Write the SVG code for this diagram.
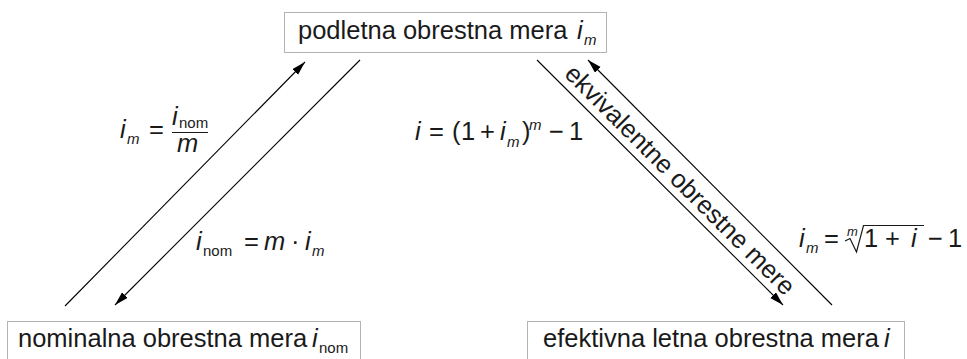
<svg xmlns="http://www.w3.org/2000/svg" width="967" height="359" viewBox="0 0 967 359">
<style>
text{font-family:"Liberation Sans",Arial,sans-serif;fill:#1a1a1a;font-size:25.5px}
.it{font-style:italic}
.sub{font-size:15px;font-style:italic}
.subu{font-size:15px}
.box{fill:#fff;stroke:#666;stroke-width:1;stroke-dasharray:1 1}
.ln{stroke:#000;stroke-width:1.1;fill:none}
</style>
<defs>
<marker id="ah" markerUnits="userSpaceOnUse" markerWidth="16" markerHeight="10" refX="14" refY="4" orient="auto">
<path d="M0,0 L14,4 L0,8 z" fill="#000"/>
</marker>
</defs>
<g id="node-podletna">
<rect class="box" x="284.5" y="12.5" width="322" height="40"/>
<text x="298" y="39">podletna obrestna mera</text>
<text class="it" x="577" y="39">i</text>
<text class="sub" x="584" y="45">m</text>
</g>
<g id="node-nominalna">
<rect class="box" x="7.5" y="321.5" width="353" height="45"/>
<text x="18" y="347">nominalna obrestna mera</text>
<text class="it" x="312" y="347">i</text>
<text class="subu" x="319" y="353">nom</text>
</g>
<g id="node-efektivna">
<rect class="box" x="527.5" y="321.5" width="377" height="45"/>
<text x="543" y="347">efektivna letna obrestna mera</text>
<text class="it" x="884" y="347">i</text>
</g>
<g id="connectors">
<line class="ln" x1="65" y1="306" x2="305" y2="62" marker-end="url(#ah)"/>
<line class="ln" x1="360" y1="60" x2="115" y2="305" marker-end="url(#ah)"/>
<line class="ln" x1="537" y1="60" x2="783" y2="305" marker-end="url(#ah)"/>
<line class="ln" x1="832" y1="305" x2="588" y2="60" marker-end="url(#ah)"/>
</g>
<g id="label-im-inom">
<text class="it" x="120" y="138">i</text>
<text class="sub" x="127" y="144">m</text>
<text x="149" y="138">=</text>
<text class="it" x="172" y="125">i</text>
<text class="subu" x="179" y="128">nom</text>
<line x1="172" y1="132.5" x2="208" y2="132.5" stroke="#1a1a1a" stroke-width="1.2"/>
<text class="it" x="177" y="152">m</text>
</g>
<g id="label-inom">
<text class="it" x="196" y="250">i</text>
<text class="subu" x="203" y="256">nom</text>
<text x="244" y="250">=</text>
<text class="it" x="264" y="250">m</text>
<text x="291" y="250">·</text>
<text class="it" x="305" y="250">i</text>
<text class="sub" x="312" y="256">m</text>
</g>
<g id="label-i">
<text class="it" x="415" y="140">i</text>
<text x="429" y="140">=</text>
<text x="452" y="140">(</text>
<text x="461" y="140">1</text>
<text x="480" y="140">+</text>
<text class="it" x="500" y="140">i</text>
<text class="sub" x="507" y="147">m</text>
<text x="522" y="140">)</text>
<text class="sub" x="529" y="130">m</text>
<text x="549" y="140">−</text>
<text x="569" y="140">1</text>
</g>
<g id="label-root">
<text class="it" x="799" y="247">i</text>
<text class="sub" x="806" y="253">m</text>
<text x="824" y="247">=</text>
<text class="sub" x="847" y="236" style="font-size:13px">m</text>
<path d="M845,241 L850,238.5 L856.5,252 L863.5,225.5 L924,225.5" fill="none" stroke="#1a1a1a" stroke-width="1.2"/>
<text x="864" y="247">1</text>
<text x="885" y="247">+</text>
<text class="it" x="911" y="247">i</text>
<text x="928" y="247">−</text>
<text x="948" y="247">1</text>
</g>
<g id="label-ekvivalentne">
<text transform="translate(674,186) rotate(45)" text-anchor="middle">ekvivalentne obrestne mere</text>
</g>
</svg>
